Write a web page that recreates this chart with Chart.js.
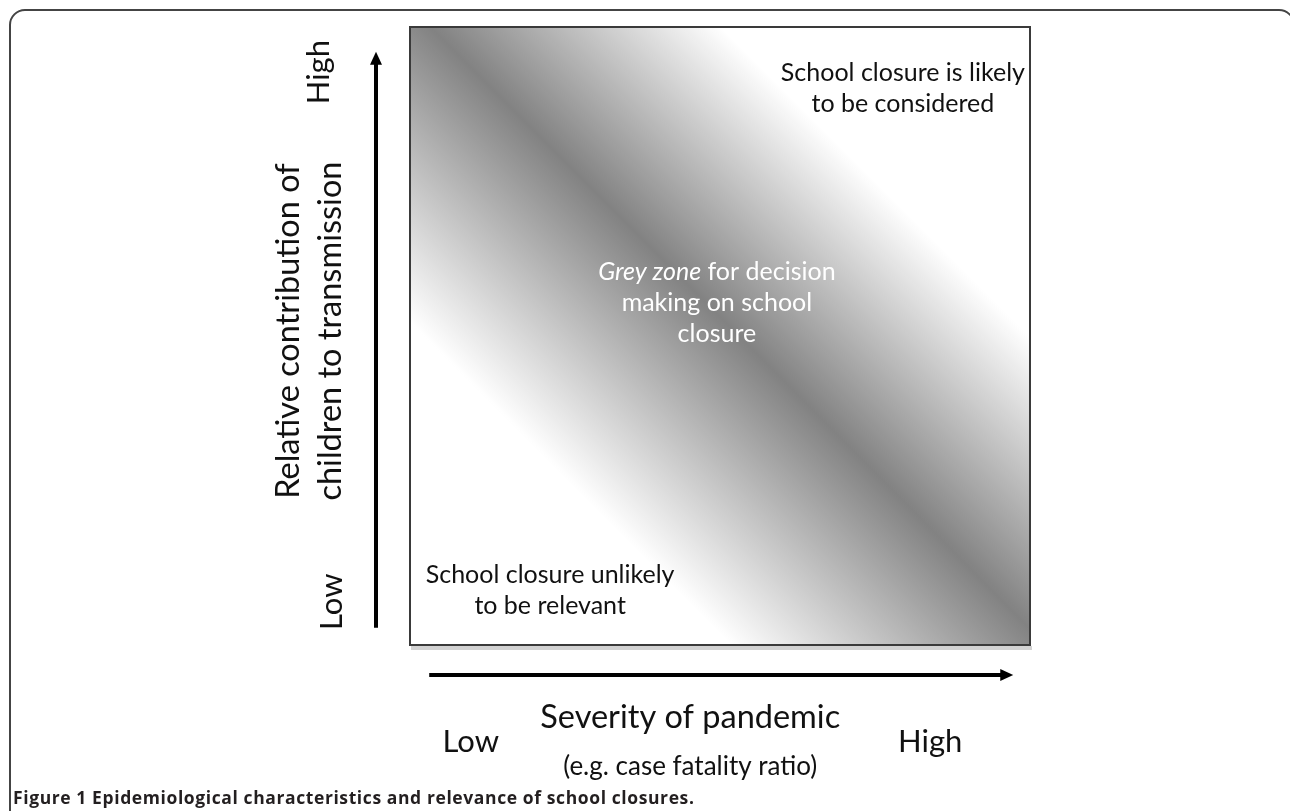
<!DOCTYPE html>
<html>
<head>
<meta charset="utf-8">
<title>Epidemiological characteristics and relevance of school closures</title>
<script src="https://cdn.jsdelivr.net/npm/chart.js@4.4.1/dist/chart.umd.min.js"></script>
<style>
  html, body { margin: 0; padding: 0; background: #fff; }
  body { width: 1290px; height: 811px; overflow: hidden; position: relative; }
  #frame {
    position: absolute; left: 9px; top: 9px; width: 1286px; height: 900px;
    border: 2px solid #444; border-radius: 16px 16px 0 0; box-sizing: border-box;
  }
  #c { position: absolute; left: 0; top: 0; }
  #caption {
    position: absolute; left: 13px; top: 785px;
    font: 700 17.5px "Open Sans", sans-serif; letter-spacing: 0.6px;
    color: #231f20; white-space: nowrap;
  }
</style>
</head>
<body>
<div id="frame"></div>
<canvas id="c" width="1290" height="811"></canvas>
<div id="caption">Figure 1 Epidemiological characteristics and relevance of school closures.</div>
<script>
/* DATA */
const axisRange = [0, 1];                 // low .. high on both axes
const tickLabels = ["Low", "High"];
const xTickValues = [0.098, 0.839];
const yTickValues = [0.07, 0.927];
const xTitle = ["Severity of pandemic", "(e.g. case fatality ratio)"];
const yTitle = ["Relative contribution of", "children to transmission"];
const xArrow = [0.031, 0.973];
const yArrow = [0.028, 0.96];

// grey band across the square: 0 = bottom-left corner, 1 = top-right corner
const bandPos = [0, 0.26, 0.515, 0.75, 1];
const bandGrey = [255, 255, 130, 255, 255];

// notes inside the square (centre of each block, in axis units)
const noteText = [
  ["School closure is likely", "to be considered"],
  ["*Grey zone* for decision", "making on school", "closure"],
  ["School closure unlikely", "to be relevant"]
];
const noteX = [0.795, 0.495, 0.226];
const noteY = [0.9, 0.553, 0.089];
const noteColor = ["#111", "#fff", "#111"];

const FONT = "Lato";

/* GRADIENT FILL */
function bandFill(context) {
  const a = context.chart.chartArea;
  if (!a) return "#fff";
  const g = context.chart.ctx.createLinearGradient(a.left, a.bottom, a.right, a.top);
  bandPos.forEach((p, i) => {
    const v = bandGrey[i];
    g.addColorStop(p, `rgb(${v},${v},${v})`);
  });
  return g;
}

/* TEXT HELPERS */
function drawRich(ctx, line, cx, cy, size) {
  // *...* = italic segment
  const parts = line.split("*").map((t, i) => ({ t, it: i % 2 === 1 })).filter(p => p.t);
  const fontOf = p => `${p.it ? "italic " : ""}${size}px ${FONT}`;
  let w = 0;
  parts.forEach(p => { ctx.font = fontOf(p); w += ctx.measureText(p.t).width; });
  let x = cx - w / 2;
  ctx.textAlign = "left";
  parts.forEach(p => {
    ctx.font = fontOf(p);
    ctx.fillText(p.t, x, cy);
    x += ctx.measureText(p.t).width;
  });
}

function vText(ctx, s, cx, cy) {
  ctx.save();
  ctx.translate(cx, cy);
  ctx.rotate(-Math.PI / 2);
  ctx.fillText(s, 0, 0);
  ctx.restore();
}

/* DIAGRAM PLUGIN */
const diagram = {
  id: "diagram",
  afterDatasetsDraw(chart) {
    const { ctx, chartArea: a, scales: { x, y } } = chart;
    ctx.save();

    // box shadow + border
    ctx.fillStyle = "#d2d2d2";
    ctx.fillRect(a.left + 1, a.bottom + 1, a.width + 1, 4);
    ctx.strokeStyle = "#3a3a3a";
    ctx.lineWidth = 2;
    ctx.strokeRect(a.left, a.top, a.width, a.height);

    // arrows
    ctx.fillStyle = "#000";
    ctx.strokeStyle = "#000";
    ctx.lineWidth = 4;
    const ax = a.left - 34;
    const y0 = y.getPixelForValue(yArrow[0]), y1 = y.getPixelForValue(yArrow[1]);
    ctx.beginPath(); ctx.moveTo(ax, y0); ctx.lineTo(ax, y1 + 10); ctx.stroke();
    ctx.beginPath(); ctx.moveTo(ax, y1); ctx.lineTo(ax - 6, y1 + 13); ctx.lineTo(ax + 6, y1 + 13); ctx.closePath(); ctx.fill();

    const ay = a.bottom + 30;
    const x0 = x.getPixelForValue(xArrow[0]), x1 = x.getPixelForValue(xArrow[1]);
    ctx.beginPath(); ctx.moveTo(x0, ay); ctx.lineTo(x1 - 10, ay); ctx.stroke();
    ctx.beginPath(); ctx.moveTo(x1, ay); ctx.lineTo(x1 - 13, ay - 6); ctx.lineTo(x1 - 13, ay + 6); ctx.closePath(); ctx.fill();

    // axis labels
    ctx.fillStyle = "#111";
    ctx.textAlign = "center";
    ctx.textBaseline = "middle";
    ctx.font = `31px ${FONT}`;
    xTickValues.forEach((v, i) => ctx.fillText(tickLabels[i], x.getPixelForValue(v), a.bottom + 97));
    const tcx = x.getPixelForValue(0.452);
    ctx.font = `32.5px ${FONT}`;
    ctx.fillText(xTitle[0], tcx, a.bottom + 73);
    ctx.font = `26px ${FONT}`;
    ctx.fillText(xTitle[1], tcx, a.bottom + 122);

    ctx.font = `31px ${FONT}`;
    yTickValues.forEach((v, i) => vText(ctx, tickLabels[i], a.left - (i ? 91 : 78), y.getPixelForValue(v)));
    const tcy = y.getPixelForValue(0.508);
    ctx.font = `32.5px ${FONT}`;
    vText(ctx, yTitle[0], a.left - 121, tcy);
    vText(ctx, yTitle[1], a.left - 79, tcy);

    // notes
    noteText.forEach((lines, i) => {
      ctx.fillStyle = noteColor[i];
      const cx = x.getPixelForValue(noteX[i]);
      const cy = y.getPixelForValue(noteY[i]);
      const lh = 31;
      lines.forEach((line, j) => {
        drawRich(ctx, line, cx, cy + (j - (lines.length - 1) / 2) * lh, 25);
      });
    });

    ctx.restore();
  }
};

/* CHART */
new Chart(document.getElementById("c"), {
  type: "line",
  data: {
    datasets: [{
      data: axisRange.map(v => ({ x: v, y: axisRange[1] })),
      fill: "start",
      backgroundColor: bandFill,
      borderWidth: 0,
      pointRadius: 0,
      tension: 0
    }]
  },
  options: {
    responsive: false,
    animation: false,
    devicePixelRatio: 1,
    layout: { padding: { left: 410, top: 27, right: 260, bottom: 166 } },
    scales: {
      x: { type: "linear", min: axisRange[0], max: axisRange[1], display: false },
      y: { type: "linear", min: axisRange[0], max: axisRange[1], display: false }
    },
    plugins: { legend: { display: false }, tooltip: { enabled: false } },
    events: []
  },
  plugins: [diagram]
});
</script>
</body>
</html>
